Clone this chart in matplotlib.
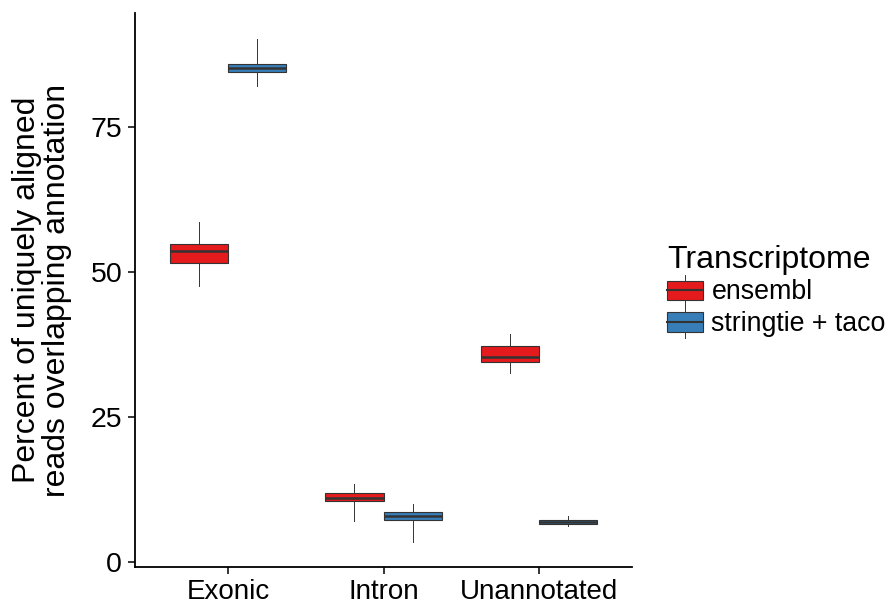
import matplotlib
matplotlib.use("Agg")
import matplotlib.pyplot as plt
from matplotlib.legend_handler import HandlerBase
from matplotlib.patches import Rectangle
from matplotlib.lines import Line2D

plt.rcParams['font.family'] = ['Liberation Sans', 'DejaVu Sans']

# data
categories = ["Exonic", "Intron", "Unannotated"]
series = ["ensembl", "stringtie + taco"]
colors = ["#E41A1C", "#377EB8"]

# per series: one value per category
whislo = {"ensembl": [47.5, 7.0, 32.6], "stringtie + taco": [82.0, 3.4, 6.2]}
q1 = {"ensembl": [51.5, 10.4, 34.4], "stringtie + taco": [84.4, 7.2, 6.5]}
med = {"ensembl": [53.6, 11.0, 35.2], "stringtie + taco": [85.1, 7.9, 6.8]}
q3 = {"ensembl": [54.8, 11.8, 37.1], "stringtie + taco": [85.8, 8.5, 7.2]}
whishi = {"ensembl": [58.6, 13.4, 39.3], "stringtie + taco": [90.1, 10.0, 7.9]}

edge = "#333333"
fig = plt.figure(figsize=(8.92, 6.07), dpi=100)
ax = fig.add_axes([0.151, 0.066, 0.558, 0.912])

width = 0.375
for j, s in enumerate(series):
    stats = []
    for i in range(len(categories)):
        stats.append(dict(whislo=whislo[s][i], q1=q1[s][i], med=med[s][i],
                          q3=q3[s][i], whishi=whishi[s][i], fliers=[]))
    pos = [i + 1 + (j - 0.5) * width for i in range(len(categories))]
    ax.bxp(stats, positions=pos, widths=width, patch_artist=True,
           showcaps=False, showfliers=False,
           boxprops=dict(facecolor=colors[j], edgecolor=edge, linewidth=0.8),
           medianprops=dict(color=edge, linewidth=1.8),
           whiskerprops=dict(color=edge, linewidth=0.7))

ax.set_xlim(0.4, 3.6)
ax.set_ylim(-0.9, 94.5)
ax.set_xticks([1, 2, 3])
ax.set_xticklabels(categories, fontsize=20)
ax.set_yticks([0, 25, 50, 75])
ax.tick_params(axis='y', labelsize=20.5, length=5, width=1.1, pad=4)
ax.tick_params(axis='x', length=5, width=1.1, pad=4)
for sp in ["top", "right"]:
    ax.spines[sp].set_visible(False)
for sp in ["left", "bottom"]:
    ax.spines[sp].set_linewidth(1.3)
ax.set_ylabel("Percent of uniquely aligned\nreads overlapping annotation",
              fontsize=23, linespacing=1.02, labelpad=13)


class BoxHandler(HandlerBase):
    def create_artists(self, legend, orig, xd, yd, w, h, fs, trans):
        c = orig.get_facecolor()
        x0, yb = -xd, -yd
        bh = h * 0.62
        y0 = yb + (h - bh) / 2
        r = Rectangle((x0, y0), w, bh, facecolor=c, edgecolor=edge,
                      linewidth=0.8, transform=trans)
        m = Line2D([x0, x0 + w], [yb + h / 2] * 2, color=edge, lw=1.5,
                   transform=trans)
        w1 = Line2D([x0 + w / 2] * 2, [y0 + bh, yb + h], color=edge, lw=0.7,
                    transform=trans)
        w2 = Line2D([x0 + w / 2] * 2, [y0, yb], color=edge, lw=0.7,
                    transform=trans)
        return [r, m, w1, w2]


handles = [Rectangle((0, 0), 1, 1, facecolor=c) for c in colors]
leg = fig.legend(handles, series, loc="center left",
                 bbox_to_anchor=(0.748, 0.52), frameon=False,
                 title="Transcriptome", title_fontsize=23, fontsize=19.3,
                 handler_map={Rectangle: BoxHandler()},
                 handlelength=1.35, handleheight=1.45, handletextpad=0.3,
                 labelspacing=0.0, borderaxespad=0, borderpad=0)
leg._legend_box.align = "left"

fig.savefig("out.png", dpi=100)
